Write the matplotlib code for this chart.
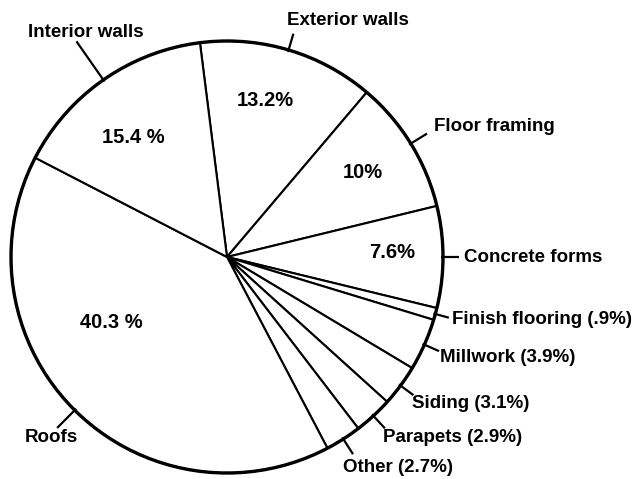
import matplotlib
matplotlib.use("Agg")
import matplotlib.pyplot as plt
import numpy as np
from matplotlib.patches import Circle

# lumber use by building part, going clockwise from the top of the pie
parts = ["Exterior walls", "Floor framing", "Concrete forms", "Finish flooring",
         "Millwork", "Siding", "Parapets", "Other", "Roofs", "Interior walls"]
shares = [13.2, 10, 7.6, 0.9, 3.9, 3.1, 2.9, 2.7, 40.3, 15.4]
outer_labels = ["Exterior walls", "Floor framing", "Concrete forms", "Finish flooring (.9%)",
                "Millwork (3.9%)", "Siding (3.1%)", "Parapets (2.9%)", "Other (2.7%)",
                "Roofs", "Interior walls"]
inner_labels = ["13.2%", "10%", "7.6%", "", "", "", "", "", "40.3 %", "15.4 %"]

# layout in pixels (y measured from the top of the picture)
W, H = 632, 479
cx, cy, R = 227, 257, 216
tick_len = [17, 19, 16, 14, 16, 16, 17, 18, 25, 47]
label_xy = [(287, 20), (434, 126), (464, 258), (452, 320), (440, 357),
            (412, 403), (383, 438), (343, 467), (25, 438), (28, 32)]
inner_xy = [(265, 100), (363, 172), (392, 253), None, None, None, None, None,
            (111, 323), (133, 137)]

font = dict(family=["Liberation Sans", "DejaVu Sans"], weight="bold", size=13.5)

fig = plt.figure(figsize=(W / 100, H / 100), dpi=100)
ax = fig.add_axes([0, 0, 1, 1])

wedges, _ = ax.pie(shares, startangle=97.2, counterclock=False,
                   center=(cx, H - cy), radius=R,
                   wedgeprops=dict(facecolor="white", edgecolor="black", linewidth=1.5))
ax.add_patch(Circle((cx, H - cy), R, fill=False, edgecolor="black", linewidth=2.4))

for w, lab, ln, (lx, ly), txt, pos in zip(wedges, outer_labels, tick_len, label_xy,
                                         inner_labels, inner_xy):
    mid = np.deg2rad((w.theta1 + w.theta2) / 2)
    r0, r1 = R - 2, R + ln
    ax.plot([cx + r0 * np.cos(mid), cx + r1 * np.cos(mid)],
            [H - cy + r0 * np.sin(mid), H - cy + r1 * np.sin(mid)],
            color="black", lw=1.6, solid_capstyle="butt")
    ax.text(lx, H - ly, lab, ha="left", va="center", **font)
    if pos is not None:
        ax.text(pos[0], H - pos[1], txt, ha="center", va="center",
                **{**font, "size": 14.5})

ax.set_xlim(0, W)
ax.set_ylim(0, H)
ax.set_aspect("equal")
ax.axis("off")

fig.savefig("out.png", dpi=100, facecolor="white")
